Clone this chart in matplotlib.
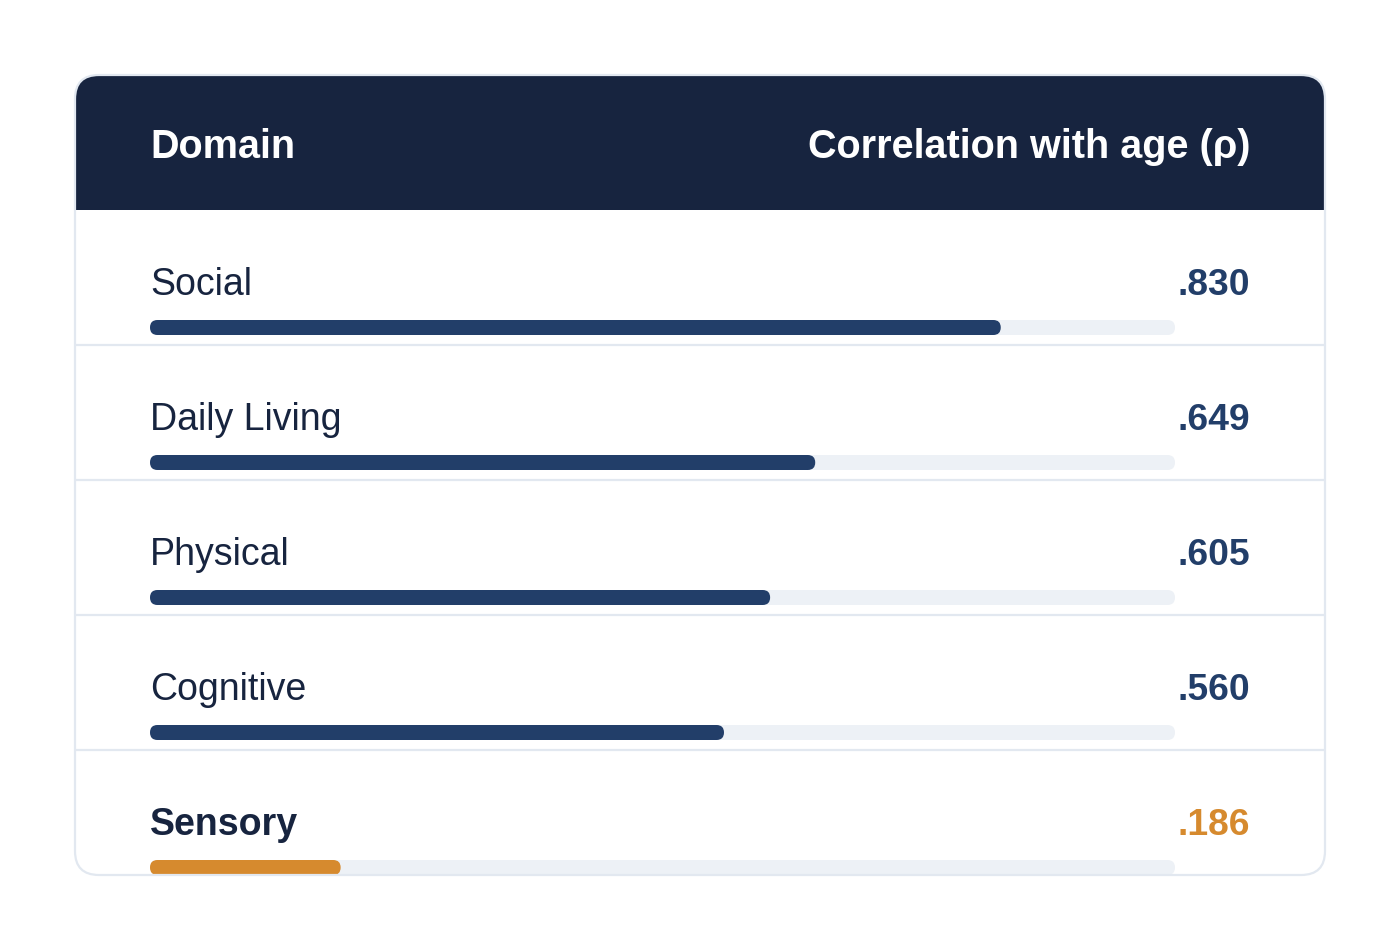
""" card-style table: correlation of each domain with age """

import matplotlib.pyplot as plt
from matplotlib.patches import FancyBboxPatch, Rectangle

domains = ["Social", "Daily Living", "Physical", "Cognitive", "Sensory"]
rho = [0.830, 0.649, 0.605, 0.560, 0.186]
highlight = "Sensory"
col_left = "Domain"
col_right = "Correlation with age (\u03c1)"

NAVY = "#17243f"
BAR = "#223e69"
TRACK = "#edf1f6"
LINE = "#e2e8f0"
ORANGE = "#d68a2e"

plt.rcParams["font.family"] = ["Liberation Sans", "DejaVu Sans"]

fig = plt.figure(figsize=(14, 9.5), dpi=100)
ax = fig.add_axes([0, 0, 1, 1])
ax.set_xlim(0, 1400)
ax.set_ylim(950, 0)
ax.axis("off")

# card geometry (pixels)
cx0, cy0, cx1, cy1 = 75, 75, 1325, 875
head_h = 135
row_h = 135
pad_l, pad_r = 150, 1250
track_x0, track_w, bar_h = 150, 1025, 15

card = FancyBboxPatch((cx0, cy0), cx1 - cx0, cy1 - cy0,
                      boxstyle="round,pad=0,rounding_size=24",
                      facecolor="white", edgecolor="none", zorder=1)
ax.add_patch(card)

head = Rectangle((cx0, cy0), cx1 - cx0, head_h, facecolor=NAVY,
                 edgecolor="none", zorder=2)
ax.add_patch(head)
head.set_clip_path(card)

ax.text(pad_l, cy0 + 83, col_left, color="white", fontsize=28.5,
        fontweight="bold", va="baseline", ha="left", zorder=5)
ax.text(pad_r, cy0 + 83, col_right, color="white", fontsize=28.5,
        fontweight="bold", va="baseline", ha="right", zorder=5)

for i, (name, v) in enumerate(zip(domains, rho)):
    top = cy0 + head_h + i * row_h
    hot = name == highlight
    ax.text(pad_l, top + 85, name, color=NAVY, fontsize=27,
            fontweight="bold" if hot else "normal", va="baseline",
            ha="left", zorder=5)
    ax.text(pad_r, top + 85, f"{v:.3f}".lstrip("0"),
            color=ORANGE if hot else BAR, fontsize=26.8, fontweight="bold",
            va="baseline", ha="right", zorder=5)

    track = FancyBboxPatch((track_x0, top + 110), track_w, bar_h,
                           boxstyle="round,pad=0,rounding_size=7.5",
                           facecolor=TRACK, edgecolor="none", zorder=3)
    fill = FancyBboxPatch((track_x0, top + 110), v * track_w, bar_h,
                          boxstyle="round,pad=0,rounding_size=7.5",
                          facecolor=ORANGE if hot else BAR, edgecolor="none",
                          zorder=4)
    for p in (track, fill):
        ax.add_patch(p)
        p.set_clip_path(card)

    if i < len(domains) - 1:
        ax.plot([cx0, cx1], [top + row_h, top + row_h], color=LINE,
                linewidth=1.6, zorder=3, solid_capstyle="butt")

border = FancyBboxPatch((cx0, cy0), cx1 - cx0, cy1 - cy0,
                        boxstyle="round,pad=0,rounding_size=24",
                        facecolor="none", edgecolor=LINE, linewidth=1.6,
                        zorder=6)
ax.add_patch(border)

fig.savefig("out.png", dpi=100, facecolor="white")
